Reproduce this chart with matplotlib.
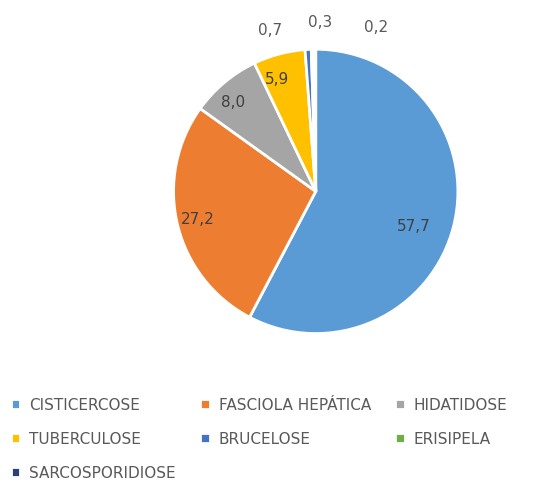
"""Pie chart: distribution of condemnation causes (%)."""

import numpy as np
import matplotlib.pyplot as plt

categories = ["CISTICERCOSE", "FASCIOLA HEPÁTICA", "HIDATIDOSE", "TUBERCULOSE",
              "BRUCELOSE", "ERISIPELA", "SARCOSPORIDIOSE"]
values = [57.7, 27.2, 8.0, 5.9, 0.7, 0.3, 0.2]
labels = ["57,7", "27,2", "8,0", "5,9", "0,7", "0,3", "0,2"]
colors = ["#5B9BD5", "#ED7D31", "#A5A5A5", "#FFC000", "#4472C4", "#70AD47", "#264478"]

plt.rcParams["font.family"] = ["DejaVu Sans"]
text_col = "#595959"

fig = plt.figure(figsize=(5.51, 4.92), dpi=100)
ax = fig.add_axes([0.315, 0.322, 0.516, 0.578])

wedges, _ = ax.pie(values, colors=colors, startangle=90, counterclock=False,
                   wedgeprops={"edgecolor": "white", "linewidth": 2})
ax.set_aspect("equal")
ax.set_xlim(-1, 1)
ax.set_ylim(-1, 1)

# Excel "best fit" nudges: (angle shift in degrees, radius) for inside labels
inside_pos = {0: (-6, 0.73), 1: (0, 0.85), 2: (3, 0.85), 3: (4, 0.83)}
# tiny slices get outside labels, pushed apart in points so they don't stack
outside_shift = {4: (-27, 0), 5: (6, 6), 6: (44, 2)}
for i, (w, lab) in enumerate(zip(wedges, labels)):
    mid = (w.theta1 + w.theta2) / 2
    if i in outside_shift:
        a = np.deg2rad(mid)
        ax.annotate(lab, xy=(1.13 * np.cos(a), 1.13 * np.sin(a)),
                    xytext=outside_shift[i], textcoords="offset points",
                    ha="center", va="center", fontsize=11, color=text_col,
                    annotation_clip=False)
    else:
        da, r = inside_pos[i]
        a = np.deg2rad(mid + da)
        ax.text(r * np.cos(a), r * np.sin(a), lab, ha="center", va="center",
                fontsize=11, color="#404040")

# matplotlib fills legend columns first, so reorder to get Excel's row-wise layout
order = [0, 3, 6, 1, 4, 2, 5]
fig.legend([wedges[i] for i in order], [categories[i] for i in order],
           loc="upper left", bbox_to_anchor=(-0.005, 0.22), ncol=3, frameon=False,
           fontsize=11, labelcolor=text_col, handlelength=0.6, handleheight=0.6,
           handletextpad=0.6, columnspacing=1.6, labelspacing=1.25)

fig.savefig("out.png", dpi=100)
